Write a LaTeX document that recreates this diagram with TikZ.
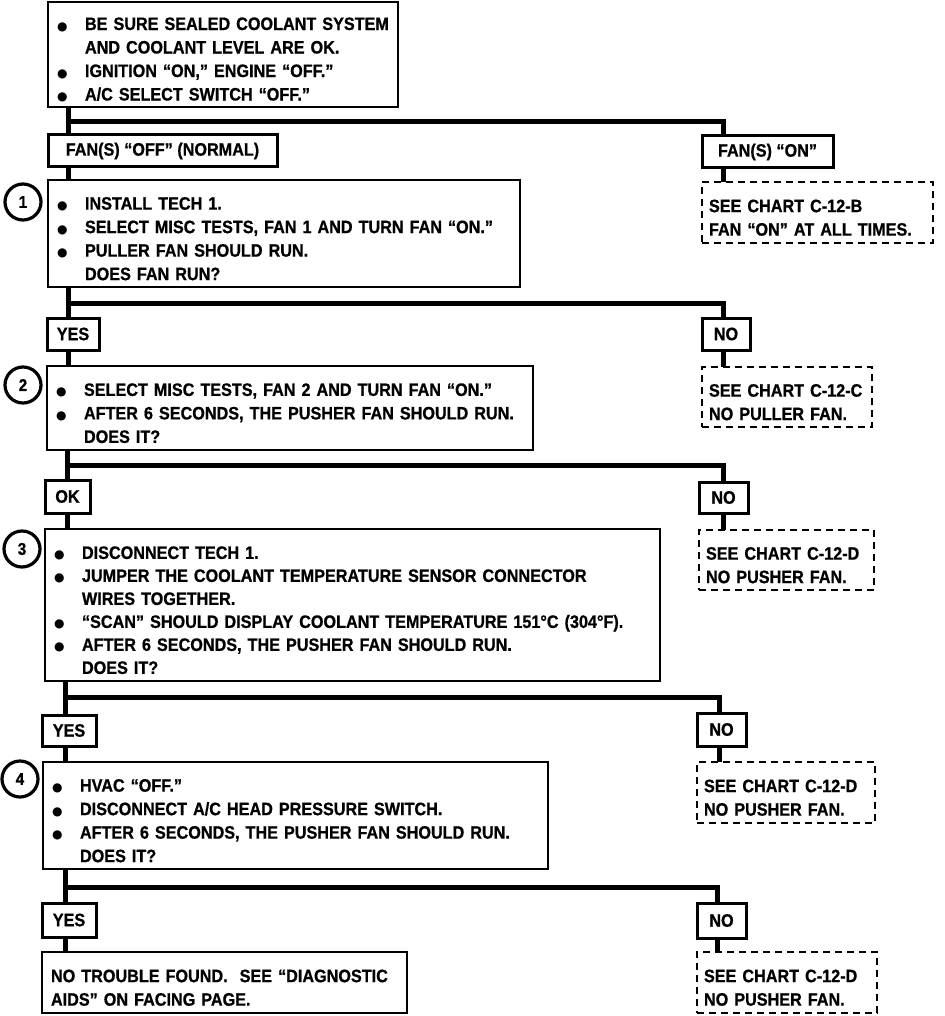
\documentclass[tikz,border=0pt]{standalone}
\usepackage{fontspec}
\setmainfont{Liberation Sans}[FakeStretch=0.9, BoldFeatures={FakeBold=0.8}]
\newfontfamily\bulfont{DejaVu Sans}
\newcommand\itm{\makebox[28pt][l]{\bulfont\fontsize{12pt}{12pt}\selectfont ●}}
\newcommand\ind{\hspace*{28pt}}
\newcommand\lift{\rule{0pt}{23pt}}
\hyphenpenalty=10000
\exhyphenpenalty=10000

\begin{document}
\begin{tikzpicture}[x=1pt, y=-1pt,
    font=\bfseries\fontsize{18pt}{23.5pt}\selectfont,
    stepbox/.style={draw, fill=white, line width=2.8pt, anchor=north west,
        outer sep=0pt, inner xsep=9pt, inner ysep=0pt, align=left},
    tagbox/.style={draw, fill=white, line width=3pt, anchor=north west,
        outer sep=0pt, inner xsep=5pt, inner ysep=0pt},
    refbox/.style={draw, fill=white, dash pattern=on 7pt off 5pt, line width=2.5pt,
        anchor=north west, outer sep=0pt, inner xsep=7pt, inner ysep=0pt, align=left},
    numcirc/.style={draw, circle, line width=3.2pt, minimum size=36pt, inner sep=0pt,
        font=\bfseries\fontsize{17pt}{17pt}\selectfont},
    wire/.style={line width=5pt}]
    \useasboundingbox (0,0) rectangle (944,1016);

    % boxes down the left side
    \node[stepbox, text width=332pt, minimum height=105pt] (chk) at (48,2)
        {\lift\itm BE SURE SEALED COOLANT SYSTEM\\ \ind AND COOLANT LEVEL ARE OK.\\
         \itm IGNITION ``ON,'' ENGINE ``OFF.''\\ \itm A/C SELECT SWITCH ``OFF.''};
    \node[tagbox, minimum width=229pt, minimum height=32pt] (offl) at (48,135)
        {FAN(S) ``OFF'' (NORMAL)};
    \node[stepbox, text width=454pt, minimum height=107pt] (s1) at (48,180)
        {\lift\itm INSTALL TECH 1.\\ \itm SELECT MISC TESTS, FAN 1 AND TURN FAN ``ON.''\\
         \itm PULLER FAN SHOULD RUN.\\ \ind DOES FAN RUN?};
    \node[tagbox, minimum width=52pt, minimum height=32pt] (yes1) at (47,318) {YES};
    \node[stepbox, text width=468pt, minimum height=84pt] (s2) at (47,366)
        {\lift\itm SELECT MISC TESTS, FAN 2 AND TURN FAN ``ON.''\\
         \itm AFTER 6 SECONDS, THE PUSHER FAN SHOULD RUN.\\ \ind DOES IT?};
    \node[tagbox, minimum width=45pt, minimum height=33pt] (ok) at (45,480) {OK};
    \node[stepbox, text width=597pt, minimum height=152pt,
        font=\bfseries\fontsize{18pt}{23pt}\selectfont] (s3) at (45,529)
        {\lift\itm DISCONNECT TECH 1.\\ \itm JUMPER THE COOLANT TEMPERATURE SENSOR CONNECTOR\\
         \ind WIRES TOGETHER.\\ \itm ``SCAN'' SHOULD DISPLAY COOLANT TEMPERATURE 151°C (304°F).\\
         \itm AFTER 6 SECONDS, THE PUSHER FAN SHOULD RUN.\\ \ind DOES IT?};
    \node[tagbox, minimum width=54pt, minimum height=31pt] (yes2) at (42,715) {YES};
    \node[stepbox, text width=487pt, minimum height=107pt] (s4) at (43,762)
        {\lift\itm HVAC ``OFF.''\\ \itm DISCONNECT A/C HEAD PRESSURE SWITCH.\\
         \itm AFTER 6 SECONDS, THE PUSHER FAN SHOULD RUN.\\ \ind DOES IT?};
    \node[tagbox, minimum width=54pt, minimum height=34pt] (yes3) at (42,903) {YES};
    \node[stepbox, text width=347pt, minimum height=61pt] (fin) at (42,952)
        {\lift NO TROUBLE FOUND.\ \ SEE ``DIAGNOSTIC\\ AIDS'' ON FACING PAGE.};

    % step numbers
    \node[numcirc] (n1) at (23,202) {1};
    \node[numcirc] (n2) at (23,385) {2};
    \node[numcirc] (n3) at (22,549) {3};
    \node[numcirc] (n4) at (20,779) {4};

    % boxes down the right side
    \node[tagbox, minimum width=131pt, minimum height=32pt] (onl) at (702,136) {FAN(S) ``ON''};
    \node[refbox, text width=217pt, minimum height=61pt] (seeb) at (702,182)
        {\lift SEE CHART C-12-B\\ FAN ``ON'' AT ALL TIMES.};
    \node[tagbox, minimum width=48pt, minimum height=32pt] (no1) at (702,318) {NO};
    \node[refbox, text width=156pt, minimum height=60pt] (seec) at (702,367)
        {\lift SEE CHART C-12-C\\ NO PULLER FAN.};
    \node[tagbox, minimum width=49pt, minimum height=31pt] (no2) at (699,482) {NO};
    \node[refbox, text width=161pt, minimum height=60pt] (seed1) at (699,530)
        {\lift SEE CHART C-12-D\\ NO PUSHER FAN.};
    \node[tagbox, minimum width=49pt, minimum height=33pt] (no3) at (697,713) {NO};
    \node[refbox, text width=164pt, minimum height=61pt] (seed2) at (697,762)
        {\lift SEE CHART C-12-D\\ NO PUSHER FAN.};
    \node[tagbox, minimum width=49pt, minimum height=35pt] (no4) at (697,903) {NO};
    \node[refbox, text width=166pt, minimum height=61pt] (seed3) at (697,952)
        {\lift SEE CHART C-12-D\\ NO PUSHER FAN.};

    % branch points
    \coordinate (t1) at (68,122);  \coordinate (d1) at (723,122);
    \coordinate (t2) at (68,303);  \coordinate (d2) at (723,303);
    \coordinate (t3) at (67,465);  \coordinate (d3) at (723,465);
    \coordinate (t4) at (65,697);  \coordinate (d4) at (719,697);
    \coordinate (t5) at (65,887);  \coordinate (d5) at (717,887);

    % trunk
    \draw[wire] (chk.south -| t1) -- (offl.north -| t1);
    \draw[wire] (offl.south -| t1) -- (s1.north -| t1);
    \draw[wire] (s1.south -| t2) -- (yes1.north -| t2);
    \draw[wire] (yes1.south -| t2) -- (s2.north -| t2);
    \draw[wire] (s2.south -| t3) -- (ok.north -| t3);
    \draw[wire] (ok.south -| t3) -- (s3.north -| t3);
    \draw[wire] (s3.south -| t4) -- (yes2.north -| t4);
    \draw[wire] (yes2.south -| t4) -- (s4.north -| t4);
    \draw[wire] (s4.south -| t5) -- (yes3.north -| t5);
    \draw[wire] (yes3.south -| t5) -- (fin.north -| t5);

    % branches to the right
    \draw[wire] (t1) -- (d1) -- (onl.north -| d1);
    \draw[wire] (onl.south -| d1) -- (seeb.north -| d1);
    \draw[wire] (t2) -- (d2) -- (no1.north -| d2);
    \draw[wire] (no1.south -| d2) -- (seec.north -| d2);
    \draw[wire] (t3) -- (d3) -- (no2.north -| d3);
    \draw[wire] (no2.south -| d3) -- (seed1.north -| d3);
    \draw[wire] (t4) -- (d4) -- (no3.north -| d4);
    \draw[wire] (no3.south -| d4) -- (seed2.north -| d4);
    \draw[wire] (t5) -- (d5) -- (no4.north -| d5);
    \draw[wire] (no4.south -| d5) -- (seed3.north -| d5);
\end{tikzpicture}
\end{document}
